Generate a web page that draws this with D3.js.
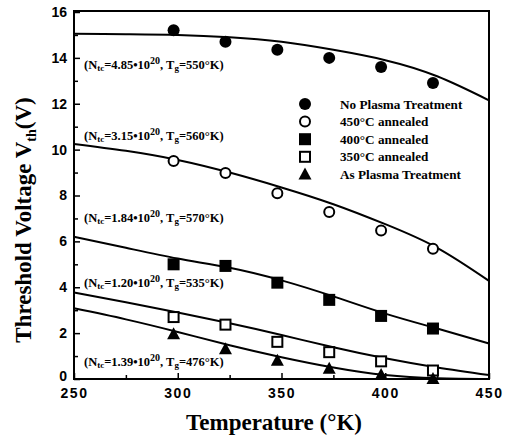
<!DOCTYPE html>
<html>
<head>
<meta charset="utf-8">
<script src="https://d3js.org/d3.v7.min.js"></script>
<style>
  body { margin: 0; background: #fff; }
</style>
</head>
<body>
<script>
// measured temperatures (K)
var temps = [298, 323, 348, 373, 398, 423];

// measured threshold voltages
var noPlasma = [15.2, 14.7, 14.35, 14.0, 13.6, 12.9];
var ann450 = [9.5, 8.98, 8.1, 7.28, 6.47, 5.68];
var ann400 = [5.0, 4.93, 4.2, 3.45, 2.75, 2.2];
var ann350 = [2.7, 2.37, 1.62, 1.17, 0.77, 0.37];
var asPlasma = [1.95, 1.3, 0.8, 0.45, 0.17, 0.0];

// fitted curves, read at these temperatures
var fitTemps = [250, 275, 300, 325, 350, 375, 400, 425, 450];
var fitNoPlasma = [15.05, 15.03, 15.0, 14.9, 14.7, 14.35, 13.9, 13.2, 12.15];
var fit450 = [10.25, 9.95, 9.55, 9.0, 8.35, 7.62, 6.75, 5.72, 4.28];
var fit400 = [6.2, 5.72, 5.25, 4.85, 4.3, 3.6, 2.85, 2.2, 1.55];
var fit350 = [3.77, 3.35, 2.9, 2.43, 1.92, 1.38, 0.9, 0.5, 0.17];
var fitAs = [3.08, 2.6, 2.05, 1.47, 0.95, 0.5, 0.17, 0.03, 0.0];

var legendNames = ["No Plasma Treatment", "450\u00B0C annealed", "400\u00B0C annealed",
                   "350\u00B0C annealed", "As Plasma Treatment"];

// fit labels: N_tc mantissa and T_g, plus the voltage they sit at
var labelNtc = ["4.85", "3.15", "1.84", "1.20", "1.39"];
var labelTg = ["550", "560", "570", "535", "476"];
var labelV = [13.7, 10.6, 7.0, 4.2, 0.75];

var xTicks = [250, 300, 350, 400, 450];
var yTicks = [0, 2, 4, 6, 8, 10, 12, 14, 16];

var W = 505, H = 439;
var mLeft = 74, mRight = 489, mTop = 12, mBottom = 379;

var svg = d3.select("body").append("svg")
  .attr("width", W).attr("height", H);

var x = d3.scaleLinear().domain([250, 450]).range([mLeft, mRight]);
var y = d3.scaleLinear().domain([0, 16]).range([mBottom, mTop]);

var sans = "'Liberation Sans', Arial, sans-serif";
var serif = "'Liberation Serif', 'Times New Roman', serif";

// frame
svg.append("rect")
  .attr("x", mLeft).attr("y", mTop - 1)
  .attr("width", mRight - mLeft).attr("height", mBottom - mTop + 1)
  .attr("fill", "none").attr("stroke", "#000").attr("stroke-width", 2);

// x axis ticks (inward)
var xAxis = d3.axisBottom(x).tickValues(xTicks).tickSize(-6).tickPadding(9)
  .tickFormat(d3.format("d"));
var gx = svg.append("g").attr("transform", "translate(0," + mBottom + ")").call(xAxis);
gx.select(".domain").remove();
gx.selectAll("line").attr("stroke-width", 1.5);
gx.selectAll("text").attr("font-family", sans).attr("font-weight", "bold")
  .attr("font-size", 14).attr("letter-spacing", 1.5);

var xMinor = d3.axisBottom(x).tickValues(d3.range(275, 450, 50)).tickSize(-4).tickFormat("");
var gxm = svg.append("g").attr("transform", "translate(0," + mBottom + ")").call(xMinor);
gxm.select(".domain").remove();
gxm.selectAll("line").attr("stroke-width", 1.5);

// y axis ticks (inward)
var yAxis = d3.axisLeft(y).tickValues(yTicks).tickSize(-6).tickPadding(7)
  .tickFormat(d3.format("d"));
var gy = svg.append("g").attr("transform", "translate(" + mLeft + ",0)").call(yAxis);
gy.select(".domain").remove();
gy.selectAll("line").attr("stroke-width", 1.5);
gy.selectAll("text").attr("font-family", sans).attr("font-weight", "bold")
  .attr("font-size", 14);
// the "0" sits a touch higher so it clears the "250"
gy.selectAll(".tick").filter(function(d) { return d === 0; })
  .select("text").attr("dy", "0.1em");

var yMinor = d3.axisLeft(y).tickValues(d3.range(1, 16, 2)).tickSize(-4).tickFormat("");
var gym = svg.append("g").attr("transform", "translate(" + mLeft + ",0)").call(yMinor);
gym.select(".domain").remove();
gym.selectAll("line").attr("stroke-width", 1.5);

// axis titles
svg.append("text")
  .attr("x", 274).attr("y", 430)
  .attr("text-anchor", "middle")
  .attr("font-family", serif).attr("font-weight", "bold").attr("font-size", 23)
  .text("Temperature (\u00B0K)");

var yt = svg.append("text")
  .attr("transform", "translate(31,220) rotate(-90)")
  .attr("text-anchor", "middle")
  .attr("font-family", serif).attr("font-weight", "bold").attr("font-size", 23);
yt.append("tspan").text("Threshold Voltage V");
yt.append("tspan").attr("font-size", 14).attr("dy", 5).text("th");
yt.append("tspan").attr("dy", -5).text("(V)");

// fitted curves
var line = d3.line()
  .x(function(d) { return x(d[0]); })
  .y(function(d) { return y(d[1]); })
  .curve(d3.curveNatural);

[fitNoPlasma, fit450, fit400, fit350, fitAs].forEach(function(f) {
  svg.append("path")
    .datum(fitTemps.map(function(t, i) { return [t, f[i]]; }))
    .attr("d", line)
    .attr("fill", "none").attr("stroke", "#000").attr("stroke-width", 2);
});

// markers
function marker(g, kind, cx, cy) {
  if (kind == 0) {
    g.append("circle").attr("cx", cx).attr("cy", cy).attr("r", 6).attr("fill", "#000");
  } else if (kind == 1) {
    g.append("circle").attr("cx", cx).attr("cy", cy).attr("r", 5)
      .attr("fill", "#fff").attr("stroke", "#000").attr("stroke-width", 2);
  } else if (kind == 2) {
    g.append("rect").attr("x", cx - 6).attr("y", cy - 6).attr("width", 12).attr("height", 12)
      .attr("fill", "#000");
  } else if (kind == 3) {
    g.append("rect").attr("x", cx - 5).attr("y", cy - 5).attr("width", 10).attr("height", 10)
      .attr("fill", "#fff").attr("stroke", "#000").attr("stroke-width", 2);
  } else {
    g.append("path")
      .attr("d", "M" + cx + "," + (cy - 7) + "L" + (cx + 6.5) + "," + (cy + 5) + "L" + (cx - 6.5) + "," + (cy + 5) + "Z")
      .attr("fill", "#000");
  }
}

var series = [noPlasma, ann450, ann400, ann350, asPlasma];
var gm = svg.append("g");
series.forEach(function(s, k) {
  temps.forEach(function(t, i) {
    marker(gm, k, x(t), y(s[i]));
  });
});

// legend
var gl = svg.append("g");
legendNames.forEach(function(name, k) {
  var ly = 104 + k * 17.6;
  marker(gl, k, 305, ly);
  gl.append("text")
    .attr("x", 340).attr("y", ly + 4.5)
    .attr("font-family", serif).attr("font-weight", "bold").attr("font-size", 13.2)
    .text(name);
});

// fit parameter labels
labelNtc.forEach(function(n, k) {
  var t = svg.append("text")
    .attr("x", 84).attr("y", y(labelV[k]) + 4)
    .attr("font-family", serif).attr("font-weight", "bold").attr("font-size", 12.5);
  t.append("tspan").text("(N");
  t.append("tspan").attr("font-size", 9).attr("dy", 2).text("tc");
  t.append("tspan").attr("dy", -2).text("=" + n + "\u2022" + "10");
  t.append("tspan").attr("font-size", 10).attr("dy", -5).text("20");
  t.append("tspan").attr("dy", 5).text(", T");
  t.append("tspan").attr("font-size", 9).attr("dy", 2).text("g");
  t.append("tspan").attr("dy", -2).text("=" + labelTg[k] + "\u00B0K)");
});
</script>
</body>
</html>
